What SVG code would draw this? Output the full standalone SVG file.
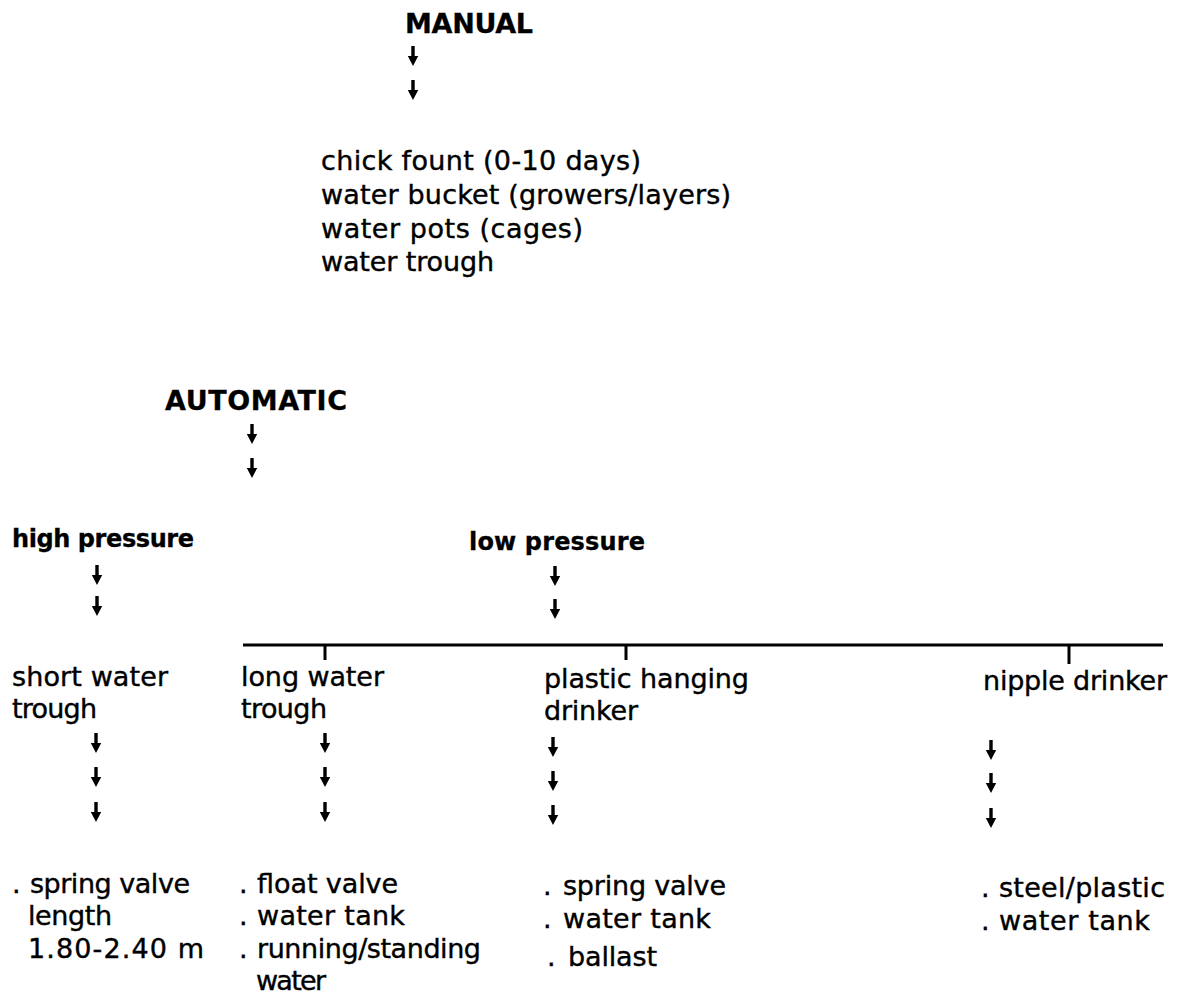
<svg xmlns="http://www.w3.org/2000/svg" width="1178" height="999" viewBox="0 0 1178 999">
<style>
text{font-family:"DejaVu Sans","Liberation Sans",sans-serif;font-size:27px;fill:#000;stroke:#000;stroke-width:0.4}
.b{font-weight:bold;font-size:24px;stroke-width:0.3}
.c{font-weight:bold;font-size:27px;stroke-width:0.3}
.bar{stroke:#000;stroke-width:3;fill:none}
</style>
<defs>
<path id="arr" d="M-1.7,0 H1.7 V10 H5.2 L0,20 L-5.2,10 H-1.7 Z" fill="#000"/>
</defs>
<rect width="1178" height="999" fill="#fff"/>
<g id="connectors">
<use href="#arr" x="413" y="46"/>
<use href="#arr" x="413" y="80"/>
<use href="#arr" x="252" y="424"/>
<use href="#arr" x="252" y="458"/>
<use href="#arr" x="97" y="565"/>
<use href="#arr" x="97" y="596"/>
<use href="#arr" x="555" y="566"/>
<use href="#arr" x="555" y="599"/>
<path class="bar" d="M243,645 H1163 M325,645 V660 M626,645 V660 M1069,645 V664"/>
<use href="#arr" x="96" y="733"/>
<use href="#arr" x="96" y="767"/>
<use href="#arr" x="96" y="802"/>
<use href="#arr" x="325" y="733"/>
<use href="#arr" x="325" y="767"/>
<use href="#arr" x="325" y="802"/>
<use href="#arr" x="553" y="737"/>
<use href="#arr" x="553" y="771"/>
<use href="#arr" x="553" y="805"/>
<use href="#arr" x="991" y="740"/>
<use href="#arr" x="991" y="773"/>
<use href="#arr" x="991" y="808"/>
</g>
<g id="manual"><text class="c" x="405" y="33" textLength="128" lengthAdjust="spacing">MANUAL</text></g>
<g id="manual-list">
<text x="321" y="170" textLength="320" lengthAdjust="spacing">chick fount (0-10 days)</text>
<text x="321" y="204" textLength="410" lengthAdjust="spacing">water bucket (growers/layers)</text>
<text x="321" y="238" textLength="262" lengthAdjust="spacing">water pots (cages)</text>
<text x="321" y="271" textLength="173" lengthAdjust="spacing">water trough</text>
</g>
<g id="automatic"><text class="c" x="165" y="410" textLength="182" lengthAdjust="spacing">AUTOMATIC</text></g>
<g id="high-pressure"><text class="b" x="12" y="547" textLength="182" lengthAdjust="spacing">high pressure</text></g>
<g id="low-pressure"><text class="b" x="469" y="550" textLength="176" lengthAdjust="spacing">low pressure</text></g>
<g id="short-trough">
<text x="12" y="686" textLength="156" lengthAdjust="spacing">short water</text>
<text x="12" y="718" textLength="85" lengthAdjust="spacing">trough</text>
</g>
<g id="long-trough">
<text x="241" y="686" textLength="143" lengthAdjust="spacing">long water</text>
<text x="241" y="718" textLength="86" lengthAdjust="spacing">trough</text>
</g>
<g id="plastic-drinker">
<text x="544" y="688" textLength="205" lengthAdjust="spacing">plastic hanging</text>
<text x="544" y="720" textLength="94" lengthAdjust="spacing">drinker</text>
</g>
<g id="nipple-drinker">
<text x="983" y="690" textLength="184" lengthAdjust="spacing">nipple drinker</text>
</g>
<g id="short-details">
<text x="12" y="893">.</text><text x="30" y="893" textLength="160" lengthAdjust="spacing">spring valve</text>
<text x="28" y="925" textLength="84" lengthAdjust="spacing">length</text>
<text x="28" y="958" textLength="176" lengthAdjust="spacing">1.80-2.40 m</text>
</g>
<g id="long-details">
<text x="239" y="893">.</text><text x="257" y="893" textLength="141" lengthAdjust="spacing">float valve</text>
<text x="239" y="925">.</text><text x="257" y="925" textLength="148" lengthAdjust="spacing">water tank</text>
<text x="239" y="958">.</text><text x="257" y="958" textLength="224" lengthAdjust="spacing">running/standing</text>
<text x="256" y="990" textLength="70" lengthAdjust="spacing">water</text>
</g>
<g id="plastic-details">
<text x="543" y="895">.</text><text x="563" y="895" textLength="163" lengthAdjust="spacing">spring valve</text>
<text x="543" y="928">.</text><text x="563" y="928" textLength="148" lengthAdjust="spacing">water tank</text>
<text x="547" y="966">.</text><text x="568" y="966" textLength="89" lengthAdjust="spacing">ballast</text>
</g>
<g id="nipple-details">
<text x="981" y="897">.</text><text x="999" y="897" textLength="166" lengthAdjust="spacing">steel/plastic</text>
<text x="981" y="930">.</text><text x="999" y="930" textLength="151" lengthAdjust="spacing">water tank</text>
</g>
</svg>
